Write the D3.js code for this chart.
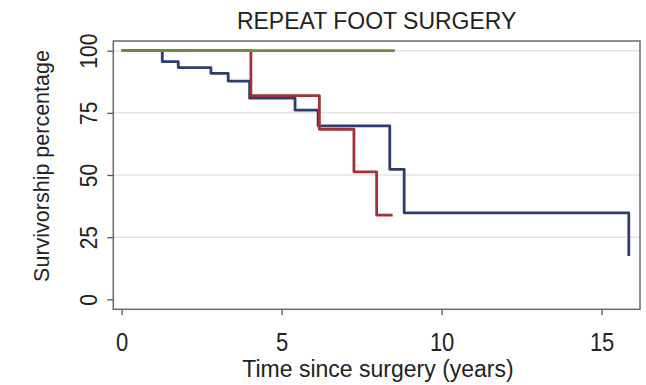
<!DOCTYPE html>
<html><head><meta charset="utf-8">
<script src="https://cdn.jsdelivr.net/npm/d3@7"></script>
<style>
html,body{margin:0;padding:0;background:#fff;}
text{font-family:"Liberation Sans",Arial,sans-serif;fill:#222;}
</style></head>
<body><svg id="c" width="646" height="385"></svg>
<script>
const title = "REPEAT FOOT SURGERY";
const xLabel = "Time since surgery (years)";
const yLabel = "Survivorship percentage";
const xTicks = [0, 5, 10, 15];
const yTicks = [0, 25, 50, 75, 100];
const blueTimes  = [0, 1.27, 1.77, 2.79, 3.33, 4.0, 5.42, 6.14, 8.38, 8.83, 15.85];
const blueValues = [100, 95.6, 93.2, 90.9, 87.8, 80.9, 76.1, 69.8, 52.3, 34.8, 17.4];
const redTimes   = [0, 4.04, 6.18, 7.26, 7.97, 8.47];
const redValues  = [100, 81.9, 68.4, 51.3, 33.9, 33.9];
const greenTimes = [0, 8.54];
const greenValues= [100, 100];

const svg = d3.select("#c");
const L = 113.3, R = 640, T = 41, B = 309.3;
const x = d3.scaleLinear().domain([-0.26, 16.2]).range([L, R]);
const y = d3.scaleLinear().domain([-4.0, 103.9]).range([B, T]);

// gridlines
svg.append("g").selectAll("line").data(yTicks.filter(d => d > 0)).join("line")
  .attr("x1", L).attr("x2", R).attr("y1", d => y(d)).attr("y2", d => y(d))
  .attr("stroke", "#e4e4e4").attr("stroke-width", 1.5);

// axes
const xa = svg.append("g").attr("transform", `translate(0,${B})`)
  .call(d3.axisBottom(x).tickValues(xTicks).tickSize(6).tickFormat(d3.format("d")));
xa.select(".domain").remove();
xa.selectAll("line").attr("stroke", "#555").attr("stroke-width", 1.3);
xa.selectAll("text").attr("font-size", 22).attr("fill", "#222")
  .attr("y", null).attr("dy", null)
  .attr("transform", "translate(0,42) scale(1,1.15)");

const ya = svg.append("g").attr("transform", `translate(${L},0)`)
  .call(d3.axisLeft(y).tickValues(yTicks).tickSize(6).tickFormat(d3.format("d")));
ya.select(".domain").remove();
ya.selectAll("line").attr("stroke", "#555").attr("stroke-width", 1.3);
ya.selectAll("text").attr("font-size", 21).attr("fill", "#222")
  .attr("text-anchor", "middle").attr("dy", null).attr("x", null)
  .attr("transform", "translate(-16,0) rotate(-90) scale(1,1.15)");

// frame
svg.append("rect").attr("x", L).attr("y", T).attr("width", R - L).attr("height", B - T)
  .attr("fill", "none").attr("stroke", "#6a6a6a").attr("stroke-width", 1.5);

// curves
const line = d3.line().x(d => x(d[0])).y(d => y(d[1])).curve(d3.curveStepAfter);
const series = [
  {t: blueTimes, v: blueValues, c: "#2f3d6c"},
  {t: redTimes, v: redValues, c: "#a3303a"},
  {t: greenTimes, v: greenValues, c: "#6e8a3c"}
];
series.forEach(s => {
  svg.append("path").datum(d3.zip(s.t, s.v)).attr("d", line)
    .attr("fill", "none").attr("stroke", s.c).attr("stroke-width", 2.8)
    .attr("stroke-linejoin", "round");
});

// titles
svg.append("text").attr("x", (L + R) / 2).attr("y", 28.5).attr("text-anchor", "middle")
  .attr("font-size", 23).text(title);
svg.append("text").attr("x", 378).attr("y", 377).attr("text-anchor", "middle")
  .attr("font-size", 23).text(xLabel);
svg.append("text").attr("transform", "translate(49,166) rotate(-90)").attr("text-anchor", "middle")
  .attr("font-size", 21.5).text(yLabel);
</script></body></html>
